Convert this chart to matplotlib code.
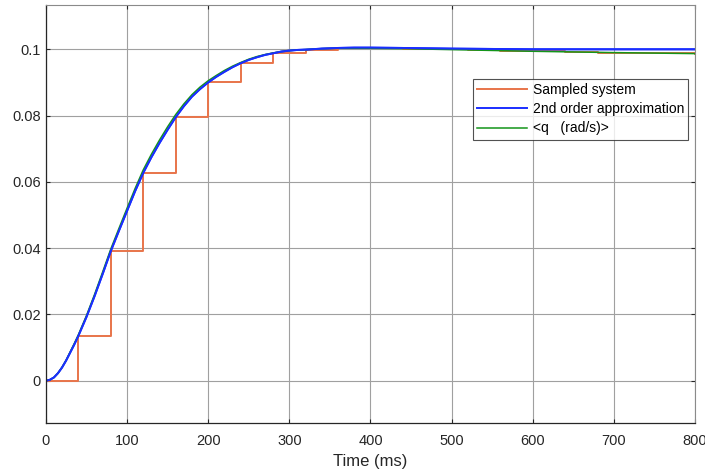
import matplotlib
matplotlib.use("Agg")
import matplotlib.pyplot as plt

plt.rcParams['font.family'] = ['Liberation Sans', 'DejaVu Sans']

# Sampled system (zero-order hold, 40 ms period)
t_samp = [0, 40, 80, 120, 160, 200, 240, 280, 320, 360, 400, 440, 480, 520,
          560, 600, 640, 680, 720, 760, 800]
q_samp = [0.0, 0.0135, 0.0391, 0.0627, 0.0795, 0.0900, 0.0958, 0.0988, 0.0999,
          0.1003, 0.1003, 0.1002, 0.1000, 0.0998, 0.0996, 0.0994, 0.0992,
          0.0990, 0.0989, 0.0988, 0.0987]

# 2nd order approximation
t_cont = [0, 5, 10, 15, 20, 25, 30, 35, 40, 50, 60, 70, 80, 90, 100, 110, 120,
          130, 140, 150, 160, 170, 180, 190, 200, 210, 220, 230, 240, 250, 260,
          270, 280, 290, 300, 310, 320, 340, 360, 380, 400, 440, 500, 600, 700,
          800]
q_2nd = [0.0, 0.0003, 0.0010, 0.0023, 0.0040, 0.0061, 0.0085, 0.0109, 0.0135,
         0.0192, 0.0255, 0.0322, 0.0391, 0.0452, 0.0512, 0.0572, 0.0627, 0.0674,
         0.0717, 0.0757, 0.0795, 0.0828, 0.0857, 0.0880, 0.0900, 0.0917, 0.0932,
         0.0946, 0.0958, 0.0968, 0.0976, 0.0983, 0.0988, 0.0993, 0.0996, 0.0998,
         0.0999, 0.1002, 0.1004, 0.1005, 0.1005, 0.1004, 0.1002, 0.1000, 0.1000,
         0.1000]

# <q (rad/s)>
q_meas = [0.0, 0.0003, 0.0010, 0.0023, 0.0041, 0.0062, 0.0087, 0.0112, 0.0138,
          0.0196, 0.0260, 0.0328, 0.0397, 0.0459, 0.0520, 0.0580, 0.0636, 0.0683,
          0.0726, 0.0766, 0.0803, 0.0835, 0.0863, 0.0886, 0.0905, 0.0921, 0.0936,
          0.0949, 0.0960, 0.0970, 0.0978, 0.0984, 0.0989, 0.0993, 0.0996, 0.0998,
          0.0999, 0.1002, 0.1003, 0.1003, 0.1003, 0.1002, 0.0999, 0.0994, 0.0990,
          0.0987]

xticks = [0, 100, 200, 300, 400, 500, 600, 700, 800]
yticks = [0, 0.02, 0.04, 0.06, 0.08, 0.1]
ytick_labels = ['0', '0.02', '0.04', '0.06', '0.08', '0.1']

fig = plt.figure(figsize=(7.05, 4.73), dpi=100)
ax = fig.add_axes([0.065, 0.106, 0.921, 0.883])

ax.step(t_samp, q_samp, where='post', color='#E8744A', lw=1.4, label='Sampled system')
ax.plot(t_cont, q_2nd, color='#1A2EFF', lw=1.4, label='2nd order approximation')
ax.plot(t_cont, q_meas, color='#14951A', lw=1.1, label='<q   (rad/s)>')
# redraw blue on top in the rising part as in the reference
ax.plot(t_cont, q_2nd, color='#1A2EFF', lw=1.4)

ax.set_xlim(0, 800)
ax.set_ylim(-0.0127, 0.1133)
ax.set_xticks(xticks)
ax.set_xticklabels([str(x) for x in xticks])
ax.set_yticks(yticks)
ax.set_yticklabels(ytick_labels)
ax.grid(True, color='#a0a0a0', lw=0.8)
ax.set_axisbelow(True)
ax.tick_params(direction='in', length=3, colors='#262626', labelsize=10.5,
               top=True, right=True, width=0.8)
ax.tick_params(axis='x', pad=8)
for s in ['left', 'bottom']:
    ax.spines[s].set_color('#262626')
    ax.spines[s].set_linewidth(0.9)
for s in ['top', 'right']:
    ax.spines[s].set_color('#8a8a8a')
    ax.spines[s].set_linewidth(0.8)
ax.set_xlabel('Time (ms)', fontsize=12, color='#262626', labelpad=4)

leg = ax.legend(loc='upper left', bbox_to_anchor=(0.658, 0.824), fontsize=10,
                frameon=True, fancybox=False, edgecolor='#262626',
                handlelength=3.6, borderpad=0.3, labelspacing=0.38,
                handletextpad=0.4, borderaxespad=0)
leg.get_frame().set_linewidth(0.8)

fig.savefig('out.png', dpi=100)
